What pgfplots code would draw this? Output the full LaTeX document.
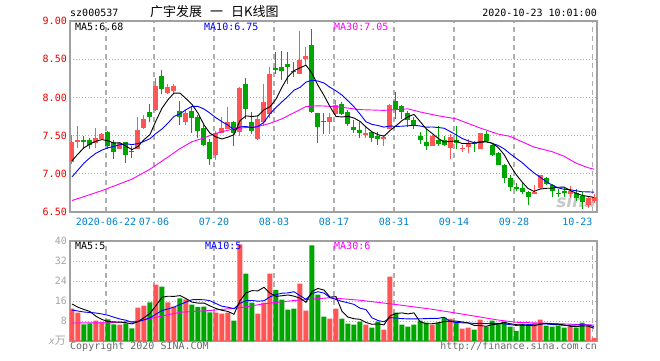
\documentclass[border=0pt]{standalone}
\usepackage{pgfplots}
\pgfplotsset{compat=1.18}
\usepackage{pgfplotstable}
\usepackage{fontspec}
\newfontfamily\mono{DejaVu Sans Mono}
\newfontfamily\cjk{Noto Sans CJK SC}
\newfontfamily\wsans{DejaVu Sans}
\definecolor{upred}{RGB}{255,85,85}
\definecolor{dngreen}{RGB}{0,166,0}
\definecolor{tickred}{RGB}{232,0,0}
\definecolor{tickblue}{RGB}{0,130,205}
\definecolor{framegray}{RGB}{160,160,160}
\definecolor{gridgray}{RGB}{175,175,175}
\definecolor{copygray}{RGB}{105,105,105}
\definecolor{lightgr}{RGB}{165,165,165}
\definecolor{wmgray}{RGB}{200,200,200}
\definecolor{mablue}{RGB}{0,0,255}
\definecolor{mamag}{RGB}{255,0,255}

% i O H L C V  (up = red candles)
\pgfplotstableread{
i O H L C V
0 7.15 7.51 7.13 7.41 13.0
1 7.41 7.62 7.34 7.44 11.4
4 7.40 7.60 7.34 7.47 8.2
5 7.46 7.53 7.44 7.52 7.5
8 7.33 7.41 7.33 7.40 6.6
11 7.33 7.75 7.32 7.57 13.4
12 7.60 7.77 7.59 7.72 14.2
14 7.83 8.25 7.82 8.15 22.6
16 8.06 8.17 8.05 8.13 15.5
17 8.08 8.18 8.05 8.15 13.8
19 7.68 7.83 7.64 7.79 16.7
24 7.25 7.56 7.18 7.54 11.4
25 7.54 7.75 7.53 7.60 11.0
26 7.59 7.87 7.58 7.68 11.4
28 7.55 8.13 7.50 8.12 38.7
31 7.46 7.77 7.44 7.72 11.0
32 7.68 8.17 7.63 7.94 15.4
33 7.78 8.40 7.73 8.31 27.0
38 8.31 8.87 8.30 8.49 23.0
39 8.50 8.66 8.43 8.54 12.2
43 7.68 7.79 7.52 7.75 9.0
44 7.78 7.97 7.77 7.90 13.0
49 7.52 7.62 7.47 7.53 6.6
52 7.465 7.51 7.37 7.475 4.6
53 7.59 7.92 7.58 7.90 25.8
60 7.36 7.51 7.36 7.50 6.6
63 7.34 7.52 7.19 7.48 9.0
65 7.33 7.38 7.29 7.335 5.0
66 7.35 7.45 7.27 7.40 5.4
68 7.33 7.54 7.32 7.53 8.6
77 6.75 6.85 6.73 6.755 7.0
78 6.81 6.99 6.80 6.98 8.6
83 6.73 6.84 6.68 6.77 5.8
86 6.59 6.70 6.55 6.68 5.8
87 6.65 6.74 6.62 6.70 1.3
}\up

% down = green candles
\pgfplotstableread{
i O H L C V
2 7.44 7.50 7.33 7.43 6.7
3 7.44 7.47 7.33 7.38 7.1
6 7.55 7.56 7.33 7.36 8.7
7 7.41 7.44 7.20 7.28 6.7
9 7.41 7.42 7.14 7.25 7.1
10 7.30 7.36 7.21 7.29 5.1
13 7.81 7.91 7.68 7.74 15.5
15 8.28 8.36 8.04 8.11 21.8
18 7.82 7.95 7.64 7.74 17.1
20 7.82 7.89 7.54 7.73 14.6
21 7.75 7.77 7.47 7.56 13.7
22 7.60 7.64 7.37 7.38 13.8
23 7.42 7.46 7.11 7.20 11.5
27 7.68 7.69 7.37 7.54 8.2
29 8.18 8.25 7.72 7.85 27.0
30 7.68 7.81 7.52 7.56 15.4
34 8.39 8.59 8.31 8.36 20.5
35 8.40 8.61 8.23 8.34 16.6
36 8.44 8.59 8.18 8.40 12.6
37 8.35 8.47 8.27 8.34 13.0
40 8.68 8.89 7.80 7.81 38.3
41 7.79 7.79 7.40 7.61 18.6
42 7.69 7.79 7.52 7.68 9.8
45 7.91 7.94 7.77 7.78 9.0
46 7.81 7.83 7.63 7.65 7.0
47 7.61 7.70 7.53 7.57 6.6
48 7.57 7.68 7.47 7.53 7.8
50 7.55 7.56 7.41 7.47 5.4
51 7.49 7.55 7.38 7.46 7.8
54 7.95 8.07 7.72 7.84 11.4
55 7.89 7.90 7.72 7.81 6.6
56 7.80 7.82 7.61 7.71 5.8
57 7.71 7.75 7.59 7.63 6.6
58 7.49 7.55 7.39 7.44 8.2
59 7.41 7.59 7.31 7.37 7.4
61 7.44 7.62 7.36 7.39 7.4
62 7.44 7.50 7.36 7.38 9.4
64 7.44 7.63 7.33 7.40 7.4
67 7.40 7.43 7.29 7.395 4.6
69 7.52 7.56 7.42 7.43 5.8
70 7.38 7.40 7.23 7.25 8.2
71 7.27 7.29 7.11 7.12 7.0
72 7.12 7.13 6.88 6.94 7.8
73 6.94 6.99 6.77 6.83 5.8
74 6.82 6.88 6.77 6.815 4.1
75 6.81 6.89 6.73 6.76 7.0
76 6.76 6.78 6.59 6.69 6.6
79 6.94 6.96 6.85 6.87 6.2
80 6.86 6.87 6.70 6.77 5.8
81 6.75 6.80 6.69 6.745 6.2
82 6.77 6.82 6.70 6.76 5.4
84 6.75 6.80 6.65 6.68 5.4
85 6.71 6.76 6.54 6.63 7.4
}\dn

% moving averages: price MA5, MA10; volume MA5, MA10
\pgfplotstableread{
i m5 m10 v5 v10
0 7.17 6.96 14.8 12.4
1 7.26 7.05 13.5 12.0
2 7.34 7.14 12.6 11.6
3 7.39 7.21 11.8 11.4
4 7.426 7.27 9.9 11.2
5 7.448 7.31 8.6 10.8
6 7.432 7.34 7.8 10.3
7 7.402 7.36 7.64 9.5
8 7.406 7.38 7.54 8.8
9 7.362 7.394 7.32 8.30
10 7.316 7.382 6.84 7.51
11 7.358 7.395 7.78 7.71
12 7.446 7.424 9.28 8.46
13 7.514 7.46 11.06 9.30
14 7.694 7.528 14.16 10.74
15 7.858 7.587 17.5 12.17
16 7.97 7.664 17.92 12.85
17 8.056 7.751 17.84 13.56
18 8.056 7.785 18.16 14.61
19 7.984 7.839 16.98 15.57
20 7.908 7.883 15.54 16.52
21 7.794 7.882 15.18 16.55
22 7.64 7.848 15.18 16.51
23 7.532 7.794 14.06 16.11
24 7.482 7.733 13.0 14.99
25 7.456 7.682 12.28 13.91
26 7.48 7.637 11.82 13.5
27 7.512 7.576 10.7 12.94
28 7.696 7.614 16.14 15.1
29 7.758 7.62 19.26 16.13
30 7.75 7.603 20.14 16.21
31 7.758 7.619 20.06 15.94
32 7.838 7.675 21.5 16.1
33 7.876 7.786 19.16 17.65
34 7.978 7.868 17.86 18.56
35 8.134 7.942 18.1 19.12
36 8.27 8.014 18.42 19.24
37 8.35 8.094 17.94 19.72
38 8.386 8.131 17.14 18.15
39 8.422 8.20 15.48 16.67
40 8.316 8.225 19.82 18.96
41 8.158 8.214 21.02 19.72
42 8.026 8.188 20.38 19.16
43 7.878 8.132 17.58 17.36
44 7.75 8.086 17.74 16.61
45 7.744 8.03 11.88 15.85
46 7.752 7.955 9.56 15.29
47 7.73 7.878 8.92 14.65
48 7.686 7.782 8.68 13.13
49 7.612 7.681 7.4 12.57
50 7.55 7.647 6.68 9.28
51 7.512 7.632 6.84 8.2
52 7.492 7.611 6.44 7.68
53 7.566 7.626 10.04 9.36
54 7.628 7.62 11.0 9.2
55 7.696 7.623 11.24 8.96
56 7.746 7.629 10.84 8.84
57 7.778 7.635 11.24 8.84
58 7.686 7.626 7.72 8.88
59 7.592 7.61 6.92 8.96
60 7.53 7.613 6.92 9.08
61 7.466 7.606 7.24 9.04
62 7.416 7.597 7.8 9.52
63 7.424 7.555 7.96 7.84
64 7.43 7.511 7.96 7.44
65 7.396 7.463 7.64 7.28
66 7.398 7.432 7.24 7.24
67 7.402 7.409 6.28 7.04
68 7.412 7.418 6.2 7.08
69 7.418 7.424 5.88 6.92
70 7.402 7.399 6.52 7.08
71 7.346 7.372 6.84 7.04
72 7.254 7.328 7.48 6.88
73 7.114 7.263 6.92 6.56
74 6.992 7.205 6.58 6.23
75 6.894 7.148 6.34 6.43
76 6.808 7.077 6.26 6.55
77 6.77 7.012 6.1 6.79
78 6.80 6.957 6.66 6.79
79 6.81 6.901 7.08 6.83
80 6.812 6.853 6.84 6.59
81 6.824 6.816 6.76 6.51
82 6.826 6.798 6.44 6.27
83 6.784 6.792 5.88 6.27
84 6.746 6.778 5.72 6.40
85 6.718 6.765 6.04 6.44
86 6.704 6.764 5.96 6.36
87 6.692 6.759 5.14 5.79
}\ma

% price MA30
\pgfplotstableread{
i m30
0 6.65
5 6.78
10 6.93
13 7.06
16 7.22
18 7.33
20 7.42
22 7.47
24 7.53
27 7.59
31 7.62
33 7.66
35 7.72
37 7.80
39 7.88
41 7.89
44 7.88
48 7.84
52 7.83
56 7.85
58 7.81
61 7.76
64 7.72
66 7.66
68 7.60
71 7.52
73 7.49
75 7.42
77 7.35
80 7.29
82 7.23
84 7.14
86 7.08
87 7.06
}\mathirty

% volume MA30
\pgfplotstableread{
i v30
0 7.2
6 7.3
11 7.9
14 9.5
18 11.5
23 12.2
28 13.3
32 14.9
37 16.2
43 17.3
48 16.3
54 14.6
60 12.7
65 10.8
71 8.4
74 7.5
79 7.1
87 6.4
}\vthirty

\pgfplotsset{
  kbase/.style={
    scale only axis, width=527pt, anchor=south west,
    xmin=-0.33, xmax=87.5,
    axis line style={framegray, line width=1.5pt},
    tick style={draw=none},
    xtick={5.67,13.67,23.67,33.67,43.67,53.67,63.67,73.67,86.73},
    xmajorgrids, ymajorgrids,
    x grid style={gridgray, line width=1.3pt, dash pattern=on 5pt off 4pt},
    y grid style={gridgray, line width=0.8pt, dash pattern=on 1pt off 2pt},
    yticklabel style={font=\mono\fontsize{10}{12}\selectfont, inner sep=0pt, anchor=base east, xshift=-3pt, yshift=-3.6pt},
  },
  wick/.style={draw=none, no markers, forget plot,
    error bars/.cd, y dir=both, y explicit, error mark=none,
    error bar style={draw=#1, line width=1pt, solid}},
  body/.style={draw=none, no markers, forget plot,
    error bars/.cd, y dir=both, y explicit, error mark=none,
    error bar style={draw=#1, line width=5pt, solid}},
}

\begin{document}
\begin{tikzpicture}[font=\mono\fontsize{10}{12}\selectfont]
\path[use as bounding box] (0,0) rectangle (660pt,360pt);

% faint SINA watermark behind the candles
\node[anchor=base east, inner sep=0pt, text=wmgray, font=\wsans\bfseries\itshape\fontsize{17}{18}\selectfont] at (596pt,153pt) {sina};

% ---------- price panel ----------
\begin{axis}[kbase, at={(70pt,148pt)}, height=191pt,
  ymin=6.5, ymax=9.0,
  ytick={6.5,7,7.5,8,8.5,9}, yticklabels={6.50,7.00,7.50,8.00,8.50,9.00},
  yticklabel style={text=tickred},
  xticklabels={2020-06-22,07-06,07-20,08-03,08-17,08-31,09-14,09-28,\makebox[0pt][r]{10-23}},
  xticklabel style={font=\mono\fontsize{10}{12}\selectfont, text=tickblue, inner sep=0pt, yshift=-6pt},
]
\addplot[wick=upred] table[x=i, y expr={(\thisrow{H}+\thisrow{L})/2}, y error expr={(\thisrow{H}-\thisrow{L})/2}] {\up};
\addplot[wick=dngreen] table[x=i, y expr={(\thisrow{H}+\thisrow{L})/2}, y error expr={(\thisrow{H}-\thisrow{L})/2}] {\dn};
\addplot[body=upred] table[x=i, y expr={(\thisrow{O}+\thisrow{C})/2}, y error expr={max(abs(\thisrow{C}-\thisrow{O})/2,0.0066)}] {\up};
\addplot[body=dngreen] table[x=i, y expr={(\thisrow{O}+\thisrow{C})/2}, y error expr={max(abs(\thisrow{C}-\thisrow{O})/2,0.0066)}] {\dn};
\addplot[mamag, line width=0.9pt] table[x=i, y=m30] {\mathirty};
\addplot[mablue, line width=0.9pt] table[x=i, y=m10] {\ma};
\addplot[black, line width=0.9pt] table[x=i, y=m5] {\ma};
\end{axis}

% ---------- volume panel ----------
\begin{axis}[kbase, at={(70pt,19pt)}, height=100pt,
  ymin=0, ymax=40,
  ytick={8,16,24,32,40}, yticklabels={8,16,24,32,40},
  yticklabel style={text=lightgr},
  xticklabels={},
]
\addplot[ybar, bar width=5pt, bar shift=0pt, fill=upred, draw=none] table[x=i, y=V] {\up};
\addplot[ybar, bar width=5pt, bar shift=0pt, fill=dngreen, draw=none] table[x=i, y=V] {\dn};
\addplot[mamag, line width=0.9pt] table[x=i, y=v30] {\vthirty};
\addplot[mablue, line width=0.9pt] table[x=i, y=v10] {\ma};
\addplot[black, line width=0.9pt] table[x=i, y=v5] {\ma};
\end{axis}

% ---------- texts ----------
\node[anchor=base west, inner sep=0pt] at (70pt,343.6pt) {sz000537};
\node[anchor=base west, inner sep=0pt, font=\cjk\fontsize{13}{15}\selectfont] at (150pt,343.2pt) {广宇发展\hspace{8pt}一\hspace{8pt}日K线图};
\node[anchor=base east, inner sep=0pt] at (597pt,343.6pt) {2020-10-23 10:01:00};

\node[anchor=base west, inner sep=0pt, text=black] at (75pt,329.6pt) {MA5:6.68};
\node[anchor=base west, inner sep=0pt, text=mablue] at (204pt,329.6pt) {MA10:6.75};
\node[anchor=base west, inner sep=0pt, text=mamag] at (334pt,329.6pt) {MA30:7.05};

\node[anchor=base west, inner sep=0pt, text=black] at (75pt,110.6pt) {MA5:5};
\node[anchor=base west, inner sep=0pt, text=mablue] at (205pt,110.6pt) {MA10:5};
\node[anchor=base west, inner sep=0pt, text=mamag] at (334pt,110.6pt) {MA30:6};

\node[anchor=base east, inner sep=0pt, text=lightgr] at (66pt,16pt) {{\mono\itshape x}{\cjk\fontsize{11}{12}\selectfont 万}};
\node[anchor=base west, inner sep=0pt, text=copygray] at (70pt,11pt) {Copyright 2020 SINA.COM};
\node[anchor=base east, inner sep=0pt, text=copygray] at (597pt,11pt) {http://finance.sina.com.cn};
\end{tikzpicture}
\end{document}
